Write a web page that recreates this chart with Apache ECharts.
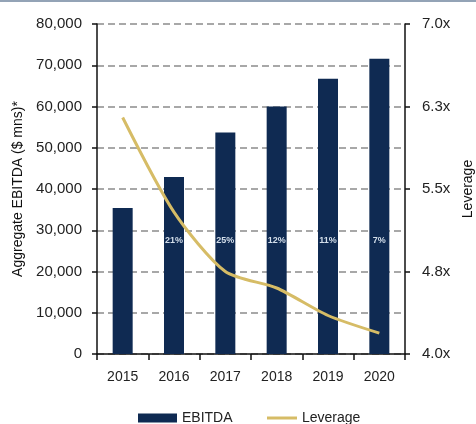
<!DOCTYPE html>
<html><head><meta charset="utf-8">
<script src="https://cdn.jsdelivr.net/npm/echarts@6/dist/echarts.min.js"></script>
<style>html,body{margin:0;padding:0;background:#fff}#c{width:476px;height:424px}</style>
</head><body><div id="c"></div>
<script>
const years = ['2015', '2016', '2017', '2018', '2019', '2020'];
const ebitda = [35400, 42900, 53700, 60000, 66750, 71600];
const leverage = [6.15, 5.29, 4.75, 4.60, 4.35, 4.19];
const growthLabels = ['', '21%', '25%', '12%', '11%', '7%'];
const leftAxis = { min: 0, max: 80000, interval: 10000 };
const rightAxis = { min: 4.0, max: 7.0, interval: 0.75 };

const FONT = "'Liberation Sans', Arial, sans-serif";
const TXT = '#222';
const LINE = '#d6bc66';
const chart = echarts.init(document.getElementById('c'), null, { renderer: 'canvas' });
chart.setOption({
  animation: false,
  backgroundColor: '#fff',
  textStyle: { fontFamily: FONT },
  graphic: [{ type: 'rect', shape: { x: 0, y: 0, width: 476, height: 2 }, style: { fill: '#93a3b6' } }],
  grid: { left: 97, right: 71, top: 24, bottom: 70, containLabel: false, outerBoundsMode: 'none' },
  legend: [
    { left: 133, top: 406, itemWidth: 39, itemHeight: 9, itemGap: 5, data: [{ name: 'EBITDA', icon: 'rect' }],
      textStyle: { fontSize: 14, color: TXT, fontFamily: FONT } },
    { left: 262, top: 406, itemWidth: 30, itemHeight: 3, itemGap: 4,
      data: [{ name: 'Leverage', icon: 'rect', itemStyle: { color: LINE } }],
      textStyle: { fontSize: 14, color: TXT, fontFamily: FONT } }
  ],
  xAxis: {
    type: 'category', data: years, boundaryGap: true,
    axisLine: { lineStyle: { color: '#111', width: 1.5 } },
    axisTick: { show: true, interval: 0, alignWithLabel: false, length: 6, lineStyle: { color: '#111', width: 1.5 } },
    axisLabel: { fontSize: 14, color: TXT, margin: 16, fontFamily: FONT }
  },
  yAxis: [
    {
      type: 'value', min: leftAxis.min, max: leftAxis.max, interval: leftAxis.interval,
      name: 'Aggregate EBITDA ($ mns)*', nameLocation: 'middle', nameGap: 72, nameRotate: 90,
      nameTextStyle: { fontSize: 14, color: '#111', fontFamily: FONT },
      axisLine: { show: true, lineStyle: { color: '#111', width: 1.5 } },
      axisTick: { show: true, length: 5, lineStyle: { color: '#111', width: 1.5 } },
      axisLabel: { fontSize: 15, color: TXT, margin: 15, fontFamily: FONT,
        formatter: v => v.toLocaleString('en-US') },
      splitLine: { show: true, lineStyle: { color: '#8c8c8c', width: 1.5, type: [7, 4] } }
    },
    {
      type: 'value', min: rightAxis.min, max: rightAxis.max, interval: rightAxis.interval,
      name: 'Leverage', nameLocation: 'middle', nameGap: 56, nameRotate: 90,
      nameTextStyle: { fontSize: 14, color: '#111', fontFamily: FONT },
      axisLine: { show: true, lineStyle: { color: '#111', width: 1.5 } },
      axisTick: { show: true, length: 5, lineStyle: { color: '#111', width: 1.5 } },
      axisLabel: { fontSize: 15, color: TXT, margin: 17, fontFamily: FONT,
        formatter: v => v.toFixed(1) + 'x' },
      splitLine: { show: false }
    }
  ],
  series: [
    {
      name: 'EBITDA', type: 'bar', data: ebitda, yAxisIndex: 0, barWidth: 20,
      itemStyle: { color: '#0f2a52' },
      label: { show: true, position: 'insideBottom', distance: 109,
        formatter: p => growthLabels[p.dataIndex],
        color: '#d3deea', fontSize: 9, fontWeight: 'bold', fontFamily: FONT }
    },
    {
      name: 'Leverage', type: 'line', data: leverage, yAxisIndex: 1,
      smooth: 0.25, symbol: 'none', showSymbol: false,
      lineStyle: { color: LINE, width: 3 }, itemStyle: { color: LINE }
    }
  ]
});
</script></body></html>
